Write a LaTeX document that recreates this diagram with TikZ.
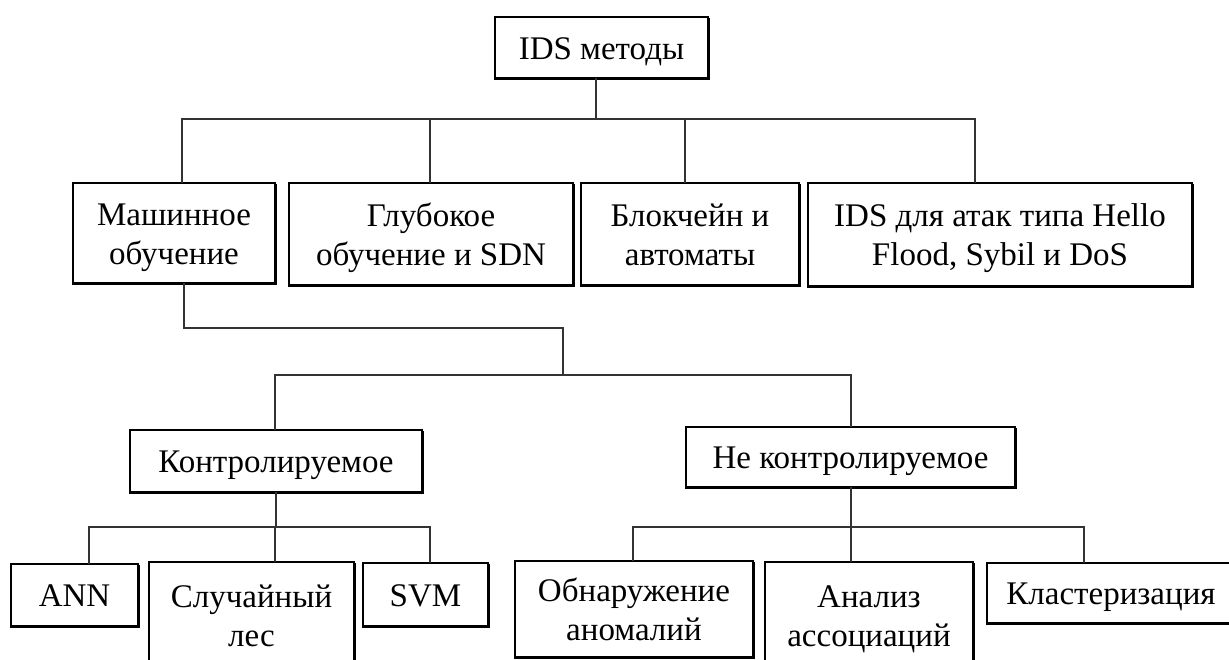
\documentclass[tikz,border=0pt]{standalone}
\usepackage{fontspec}
\setmainfont{Liberation Serif}
\begin{document}
\begin{tikzpicture}[x=1pt,y=-1pt,
  box/.style={draw=black, line width=2.2pt, outer sep=0pt, inner sep=0pt, align=center,
    font=\fontsize{33}{39}\selectfont, text=black},
  oneline/.style={text height=27pt, text depth=4pt},
  twoline/.style={text height=66pt, text depth=4pt},
  conn/.style={draw=black!80, line width=1.3pt},
  shadow/.style={draw=black, line width=2.6pt}]
\useasboundingbox (0,0) rectangle (1229,659);
\fill[white] (0,0) rectangle (1229,659);
\begin{scope}
\clip (0,0) rectangle (1229,659);
% nodes
\node[box, oneline, minimum width=213, minimum height=61] (root) at (601.5,47.5) {IDS методы};
\node[box, twoline, minimum width=202, minimum height=100] (ml) at (174,233) {Машинное\\обучение};
\node[box, twoline, minimum width=284, minimum height=102] (dl) at (431,234) {Глубокое\\обучение и SDN};
\node[box, twoline, minimum width=218, minimum height=102] (bc) at (690,234) {Блокчейн и\\автоматы};
\node[box, twoline, minimum width=384, minimum height=103] (atk) at (1000,234.5) {IDS для атак типа Hello\\Flood, Sybil и DoS};
\node[box, oneline, minimum width=292, minimum height=62] (sup) at (276,461) {Контролируемое};
\node[box, oneline, minimum width=329, minimum height=60] (uns) at (850.5,457) {Не контролируемое};
\node[box, oneline, minimum width=127, minimum height=62] (ann) at (74.5,595) {ANN};
\node[box, twoline, minimum width=205, minimum height=106] (rf) at (251.5,615) {Случайный\\лес};
\node[box, oneline, minimum width=125, minimum height=63] (svm) at (425.5,594.5) {SVM};
\node[box, twoline, minimum width=238, minimum height=96] (anom) at (634,609) {Обнаружение\\аномалий};
\node[box, twoline, minimum width=208, minimum height=106] (assoc) at (869,615) {Анализ\\ассоциаций};
\node[box, oneline, minimum width=248, minimum height=60] (clust) at (1111,593) {Кластеризация};
% thicker bottom/right edges
\foreach \n in {root,ml,dl,bc,atk,sup,uns,ann,rf,svm,anom,assoc,clust}{
  \draw[shadow] ([shift={(0.9,1.1)}]\n.north east) -- ([shift={(0.9,0.9)}]\n.south east) -- ([shift={(-1.1,0.9)}]\n.south west);
}
% level 1 bus
\coordinate (r0) at (596,119);
\coordinate (r1) at (182,119);
\coordinate (r2) at (430,119);
\coordinate (r3) at (685,119);
\coordinate (r4) at (975,119);
\draw[conn] (r0 |- root.south) -- (r0);
\draw[conn] (r1 |- ml.north) -- (r1) -- (r4) -- (r4 |- atk.north);
\draw[conn] (r2) -- (r2 |- dl.north);
\draw[conn] (r3) -- (r3 |- bc.north);
% machine learning branch
\coordinate (m0) at (184,328);
\coordinate (m1) at (563,328);
\coordinate (m2) at (563,375);
\draw[conn] (m0 |- ml.south) -- (m0) -- (m1) -- (m2);
\coordinate (s1) at (275,375);
\coordinate (s2) at (851,375);
\draw[conn] (s1 |- sup.north) -- (s1) -- (s2) -- (s2 |- uns.north);
% supervised children
\coordinate (a0) at (276,527);
\coordinate (a1) at (89,527);
\coordinate (a2) at (275,527);
\coordinate (a3) at (430,527);
\draw[conn] (a0 |- sup.south) -- (a0);
\draw[conn] (a1 |- ann.north) -- (a1) -- (a3) -- (a3 |- svm.north);
\draw[conn] (a2) -- (a2 |- rf.north);
% unsupervised children
\coordinate (u0) at (851,527);
\coordinate (u1) at (633,527);
\coordinate (u3) at (1084,527);
\draw[conn] (u0 |- uns.south) -- (u0);
\draw[conn] (u1 |- anom.north) -- (u1) -- (u3) -- (u3 |- clust.north);
\draw[conn] (u0) -- (u0 |- assoc.north);
\end{scope}
\end{tikzpicture}
\end{document}
